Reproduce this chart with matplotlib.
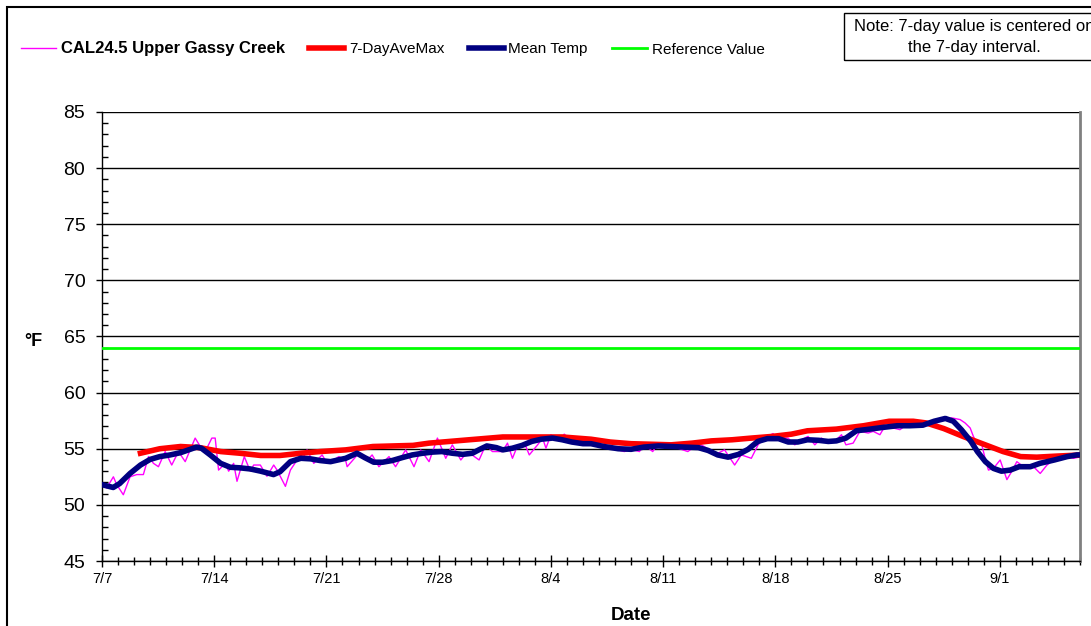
import matplotlib
matplotlib.use("Agg")
import matplotlib.pyplot as plt
from matplotlib.lines import Line2D
from matplotlib.patches import Rectangle
from matplotlib.ticker import MultipleLocator

plt.rcParams['font.family'] = ['Liberation Sans', 'DejaVu Sans']

# days counted from 7/7
tick_days = [0, 7, 14, 21, 28, 35, 42, 49, 56]
tick_labels = ["7/7", "7/14", "7/21", "7/28", "8/4", "8/11", "8/18", "8/25", "9/1"]

# logger trace (turning points of the hourly record)
temp_days = [0, 0.29, 0.71, 0.92, 1.33, 1.75, 2.17, 2.58, 2.9, 3.21, 3.52, 3.94, 4.35, 4.77,
             5.19, 5.81, 6.13, 6.44, 6.85, 7.06, 7.27, 7.69, 7.9, 8.21, 8.42, 8.875, 9.25,
             9.46, 9.875, 10.29, 10.71, 10.92, 11.44, 11.75, 12.17, 12.48, 12.79, 13.21,
             13.73, 14.04, 14.46, 14.77, 15.19, 15.29, 16.02, 16.55, 16.85, 17.27, 17.9,
             18.31, 18.94, 19.46, 19.88, 20.4, 20.92, 21.44, 21.85, 22.38, 22.79, 23.52,
             23.94, 24.35, 24.98, 25.29, 25.6, 25.9, 26.44, 26.65, 27.17, 27.48, 27.69,
             28.0, 28.52, 28.83, 29.35, 29.98, 30.5, 31.33, 32.17, 32.58, 33.0, 33.52,
             33.83, 34.35, 34.67, 34.98, 35.5, 35.92, 36.54, 36.96, 37.375, 37.9, 38.42,
             38.83, 39.46, 39.875, 40.5, 40.92, 41.33, 41.85, 42.17, 42.79, 43.21, 43.625,
             44.04, 44.46, 44.875, 45.29, 45.81, 46.125, 46.4, 46.85, 47.27, 47.79, 48.1,
             48.52, 48.83, 49.35, 49.77, 50.19, 50.81, 51.23, 51.65, 52.06, 52.48, 53.0,
             53.52, 53.83, 54.15, 54.35, 54.56, 54.875, 55.08, 55.29, 55.6, 56.02, 56.44,
             56.75, 57.06, 57.48, 58.1, 58.52, 58.94, 59.35, 59.77, 60.19, 60.6, 61.1]
temp_vals = [51.8, 51.5, 52.5, 51.8, 50.9, 52.5, 52.7, 52.7, 54.3, 53.7, 53.4, 54.75, 53.55, 54.75,
             53.85, 55.95, 55.2, 54.75, 55.95, 55.95, 53.1, 53.7, 53.0, 53.7, 52.1, 54.3, 53.0,
             53.55, 53.55, 52.55, 53.55, 53.1, 51.65, 53.1, 54.0, 54.0, 54.9, 53.7,
             54.45, 53.7, 54.0, 54.3, 54.0, 53.4, 54.6, 54.0, 54.45, 53.4, 54.3,
             53.4, 54.9, 53.4, 54.9, 53.85, 55.95, 54.15, 55.35, 54.0, 54.75, 54.0,
             55.35, 54.75, 54.75, 55.5, 54.15, 55.2, 55.2, 54.45, 55.35, 55.95, 55.05,
             56.25, 55.7, 56.3, 55.65, 55.8, 55.5, 55.2, 54.9, 54.75, 54.95, 54.75,
             55.35, 54.75, 55.5, 55.2, 55.2, 55.05, 54.75, 55.2, 55.35, 54.9, 54.6,
             54.9, 53.55, 54.45, 54.15, 55.35, 55.95, 56.35, 55.95, 55.95, 55.35, 55.8,
             56.1, 55.35, 55.95, 55.5, 55.8, 56.25, 55.35, 55.5, 56.55, 56.4, 56.55,
             56.25, 57.0, 56.85, 56.7, 57.15, 57.15, 57.5, 57.3, 57.3, 57.6, 57.75,
             57.6, 57.3, 56.85, 56.1, 55.5, 55.35, 54.15, 53.1, 53.25, 54.0, 52.25,
             53.0, 53.85, 53.4, 53.4, 52.8, 53.55, 54.0, 54.15, 54.3, 54.15, 54.3]

# 7-day average of daily maximum
avg_days = [2.4, 3.6, 4.9, 6.1, 7.4, 8.6, 9.9, 11.1, 12.4, 13.6, 15.2, 16.9, 19.4, 20.4, 22.9,
            25.0, 27.3, 28.7, 30.5, 31.7, 33.0, 34.3, 35.5, 36.8, 38.0, 39.3, 40.5, 41.8,
            43.0, 44.0, 45.8, 47.5, 49.1, 50.6, 51.4, 52.5, 53.7, 55.0, 56.2, 57.3, 58.3,
            59.6, 61.1]
avg_vals = [54.6, 55.0, 55.2, 55.1, 54.75, 54.6, 54.4, 54.4, 54.6, 54.75, 54.9, 55.2, 55.3, 55.5, 55.8,
            56.05, 56.05, 56.05, 55.85, 55.6, 55.45, 55.4, 55.35, 55.5, 55.7, 55.8, 55.95, 56.1,
            56.3, 56.6, 56.75, 57.05, 57.45, 57.45, 57.3, 56.8, 56.1, 55.4, 54.75, 54.3, 54.25,
            54.35, 54.45]

# daily mean temperature
mean_days = [0, 0.7, 1.1, 1.75, 2.4, 3.0, 3.6, 4.25, 4.9, 5.5, 5.9, 6.2, 6.75, 7.4, 8.0, 8.6,
             9.25, 9.9, 10.7, 11.1, 11.75, 12.4, 13.0, 13.6, 14.25, 15.2, 15.9, 16.4, 16.95,
             17.5, 18.1, 18.7, 19.35, 20.0, 20.6, 21.2, 21.85, 22.5, 23.1, 23.5, 24.0, 24.6,
             25.0, 25.6, 26.2, 26.8, 27.4, 28.1, 28.7, 29.3, 30.0, 30.5, 31.3, 32.2, 33.0,
             33.8, 34.7, 35.5, 36.3, 37.2, 37.8, 38.4, 39.05, 39.7, 40.3, 40.9, 41.5, 42.2,
             42.8, 43.4, 44.0, 44.7, 45.3, 45.8, 46.4, 47.05, 47.9, 48.7, 49.6, 50.4, 51.2,
             51.9, 52.6, 53.1, 53.6, 54.2, 54.6, 55.1, 55.6, 56.1, 56.65, 57.2, 57.9, 58.5,
             59.4, 60.2, 60.8, 61.1]
mean_vals = [51.8, 51.55, 51.9, 52.8, 53.55, 54.05, 54.3, 54.45, 54.65, 54.95, 55.15, 55.05, 54.45, 53.7, 53.35, 53.3,
             53.2, 53.0, 52.7, 52.95, 53.85, 54.15, 54.1, 53.95, 53.85, 54.15, 54.6, 54.2, 53.8,
             53.8, 53.95, 54.2, 54.45, 54.6, 54.7, 54.75, 54.6, 54.5, 54.6, 54.9, 55.25, 55.1,
             54.9, 55.05, 55.3, 55.65, 55.85, 55.95, 55.8, 55.6, 55.45, 55.45, 55.2, 55.0, 54.95,
             55.15, 55.25, 55.2, 55.15, 55.1, 54.85, 54.45, 54.25, 54.5, 54.95, 55.65, 55.9, 55.9,
             55.6, 55.6, 55.8, 55.75, 55.65, 55.7, 55.95, 56.6, 56.75, 56.9, 57.05, 57.05, 57.1,
             57.45, 57.7, 57.45, 56.7, 55.65, 54.75, 53.85, 53.25, 53.0, 53.1, 53.4, 53.4, 53.7,
             54.0, 54.3, 54.45, 54.45]

reference_value = 64

W, H = 1091, 626
fig = plt.figure(figsize=(W / 100, H / 100), dpi=100)
ax = fig.add_axes([102 / W, 1 - 561 / H, (1080 - 102) / W, (561 - 112) / H])

ax.plot(temp_days, temp_vals, color='#FF00FF', lw=1, zorder=3)
ax.plot(avg_days, avg_vals, color='#FF0000', lw=4, zorder=4)
ax.plot(mean_days, mean_vals, color='#000080', lw=4, zorder=5)
ax.axhline(reference_value, color='#00FF00', lw=2, zorder=3)

ax.set_xlim(0, 61)
ax.set_ylim(45, 85)

ax.set_yticks(range(45, 86, 5))
ax.yaxis.set_minor_locator(MultipleLocator(1))
ax.set_xticks(tick_days)
ax.set_xticklabels(tick_labels)
ax.xaxis.set_minor_locator(MultipleLocator(1))

ax.yaxis.grid(True, color='black', lw=1)
ax.set_axisbelow(True)

ax.tick_params(axis='y', which='major', direction='out', length=4, width=1, labelsize=14, pad=8)
ax.tick_params(axis='y', which='minor', direction='in', length=4, width=1)
ax.tick_params(axis='x', which='major', direction='inout', length=8, width=1, labelsize=10.5, pad=4)
ax.tick_params(axis='x', which='minor', direction='inout', length=6, width=1)

ax.spines['top'].set_visible(False)
ax.spines['right'].set_color('#808080')
ax.spines['right'].set_linewidth(2)
for side in ['left', 'bottom']:
    ax.spines[side].set_color('black')
    ax.spines[side].set_linewidth(1)

fig.text(33 / W, 1 - 342 / H, "°F", fontsize=13, fontweight='bold', ha='center', va='center')
fig.text(631 / W, 1 - 615 / H, "Date", fontsize=13.5, fontweight='bold', ha='center', va='center')

# legend row along the top
handles = [
    Line2D([], [], color='#FF00FF', lw=1),
    Line2D([], [], color='#FF0000', lw=4),
    Line2D([], [], color='#000080', lw=4),
    Line2D([], [], color='#00FF00', lw=2),
]
labels = ["CAL24.5 Upper Gassy Creek", "7-DayAveMax", "Mean Temp", "Reference Value"]
leg = fig.legend(handles, labels, loc='center left', bbox_to_anchor=(21 / W, 1 - 49 / H),
                 ncol=4, frameon=False, fontsize=11, handlelength=2.3, handletextpad=0.3,
                 columnspacing=1.6, borderpad=0, borderaxespad=0)
leg.get_texts()[0].set_fontweight('bold')
leg.get_texts()[0].set_fontsize(12)

# note box
fig.add_artist(Rectangle((844 / W, 1 - 60 / H), 0.5, 47 / H, transform=fig.transFigure,
                         fill=False, ec='black', lw=1))
fig.text(854 / W, 1 - 37 / H, "Note: 7-day value is centered on\nthe 7-day interval.",
         fontsize=12, ha='left', va='center', multialignment='center', linespacing=1.5)

# outer chart border
fig.add_artist(Rectangle((7 / W, -0.1), 2, 1.1 - 7 / H, transform=fig.transFigure,
                         fill=False, ec='black', lw=1.5))

fig.savefig("out.png", dpi=100)
